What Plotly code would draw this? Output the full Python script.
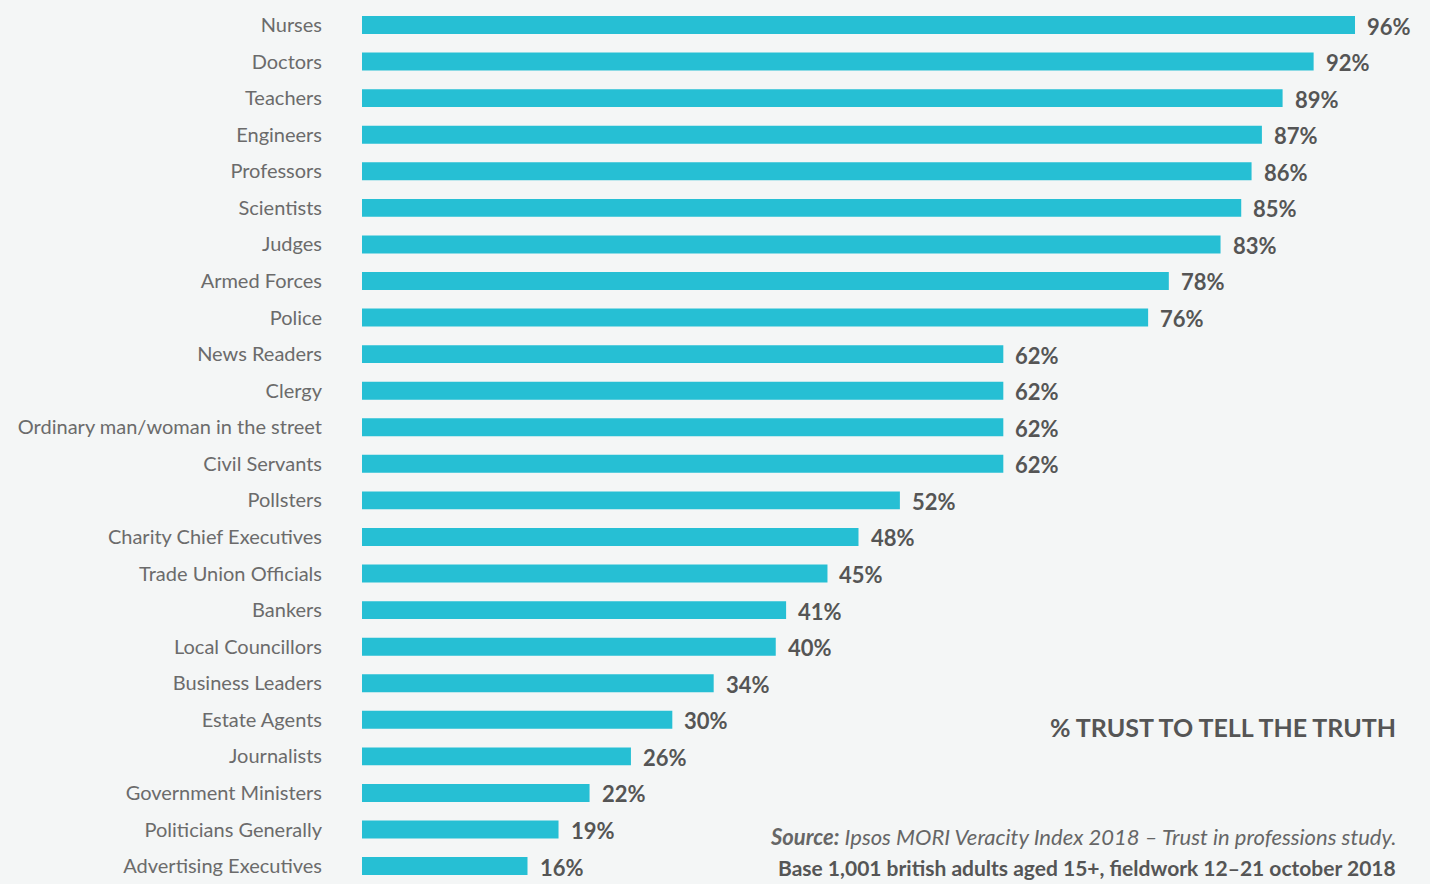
import plotly.graph_objects as go

professions = ["Nurses", "Doctors", "Teachers", "Engineers", "Professors", "Scientists",
               "Judges", "Armed Forces", "Police", "News Readers", "Clergy",
               "Ordinary man/woman in the street", "Civil Servants", "Pollsters",
               "Charity Chief Executives", "Trade Union Officials", "Bankers",
               "Local Councillors", "Business Leaders", "Estate Agents", "Journalists",
               "Government Ministers", "Politicians Generally", "Advertising Executives"]
trust = [96, 92, 89, 87, 86, 85, 83, 78, 76, 62, 62, 62, 62, 52, 48, 45, 41, 40, 34, 30,
         26, 22, 19, 16]

title_text = "% TRUST TO TELL THE TRUTH"
source_text = "<b>Source:</b> Ipsos MORI Veracity Index 2018 – Trust in professions study."
base_text = "<b>Base 1,001 british adults aged 15+, fieldwork 12–21 october 2018</b>"

BG = "#f4f6f6"
BAR = "#26bfd4"
FONT = "Lato, 'Open Sans', sans-serif"

fig = go.Figure()
fig.add_trace(go.Bar(
    x=trust, y=professions, orientation="h",
    marker=dict(color=BAR, line=dict(width=0)),
    width=0.49, hoverinfo="skip",
))

for p, v in zip(professions, trust):
    fig.add_annotation(x=v, y=p, xref="x", yref="y", text=f"<b>{v}%</b>",
                       showarrow=False, xanchor="left", yanchor="middle",
                       xshift=10, yshift=-1,
                       font=dict(family=FONT, size=22, color="#555555"))

fig.add_annotation(x=0.97, y=0.178, xref="paper", yref="paper", text=f"<b>{title_text}</b>",
                   showarrow=False, xanchor="right", yanchor="middle",
                   font=dict(family=FONT, size=25, color="#555555"))
fig.add_annotation(x=0.97, y=0.054, xref="paper", yref="paper", text=f"<i>{source_text}</i>",
                   showarrow=False, xanchor="right", yanchor="middle",
                   font=dict(family=FONT, size=22, color="#666666"))
fig.add_annotation(x=0.97, y=0.019, xref="paper", yref="paper", text=base_text,
                   showarrow=False, xanchor="right", yanchor="middle",
                   font=dict(family=FONT, size=21, color="#555555"))

fig.update_layout(
    width=1430, height=884,
    margin=dict(l=362, r=0, t=0, b=0),
    paper_bgcolor=BG, plot_bgcolor=BG,
    showlegend=False,
    xaxis=dict(range=[0, 103.25], visible=False, fixedrange=True),
    yaxis=dict(type="category", categoryorder="array", categoryarray=professions,
               range=[23.49, -0.684], showgrid=False, zeroline=False, showline=False,
               ticks="outside", ticklen=35, tickcolor="rgba(0,0,0,0)",
               automargin=False,
               tickfont=dict(family=FONT, size=20, color="#6b6b6b")),
)

fig.write_html("out.html")
